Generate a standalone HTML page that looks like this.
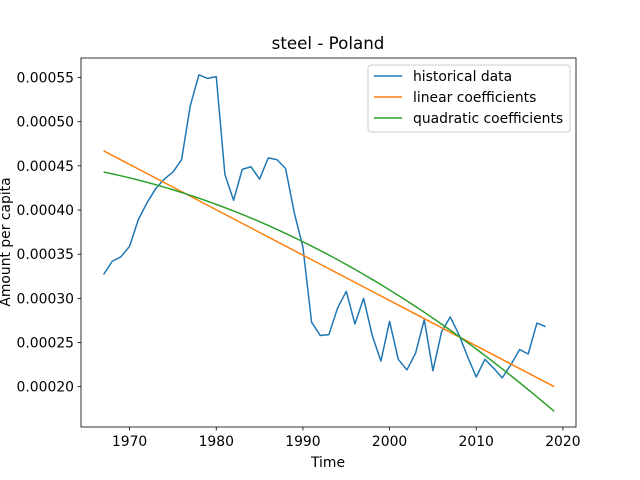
<!DOCTYPE html>
<html><head><meta charset="utf-8"><style>
body{margin:0;background:#fff;}
svg{display:block;font-family:"DejaVu Sans","Liberation Sans",sans-serif;}
</style></head><body>
<svg id="chart" width="640" height="480">
<rect width="640" height="480" fill="#fff"/>
<text x="328" y="49" font-size="16.7" text-anchor="middle">steel - Poland</text>
<g id="plot"></g>
<rect x="81" y="58" width="495" height="369" fill="none" stroke="#000" stroke-width="0.8"/>
<text x="328" y="467" font-size="13.9" text-anchor="middle">Time</text>
<text transform="translate(10,242) rotate(-90)" font-size="13.9" text-anchor="middle">Amount per capita</text>
<g>
<rect x="368" y="65" width="202" height="67" rx="3" fill="#fff" fill-opacity="0.8" stroke="#ccc"/>
<line x1="374" y1="76" x2="402" y2="76" stroke="#1f77b4" stroke-width="1.5"/>
<text x="413" y="81" font-size="13.9">historical data</text>
<line x1="374" y1="97" x2="402" y2="97" stroke="#ff7f0e" stroke-width="1.5"/>
<text x="413" y="102" font-size="13.9">linear coefficients</text>
<line x1="374" y1="118" x2="402" y2="118" stroke="#2ca02c" stroke-width="1.5"/>
<text x="413" y="123" font-size="13.9">quadratic coefficients</text>
</g>
</svg>
<script>
const years=[1967,1968,1969,1970,1971,1972,1973,1974,1975,1976,1977,1978,1979,1980,1981,1982,1983,1984,1985,1986,1987,1988,1989,1990,1991,1992,1993,1994,1995,1996,1997,1998,1999,2000,2001,2002,2003,2004,2005,2006,2007,2008,2009,2010,2011,2012,2013,2014,2015,2016,2017,2018];
const historical=[0.000327,0.000342,0.000347,0.000359,0.000389,0.000408,0.000424,0.000435,0.000443,0.000457,0.000518,0.000553,0.000549,0.000551,0.000440,0.000411,0.000446,0.000449,0.000435,0.000459,0.000457,0.000447,0.000397,0.000358,0.000273,0.000258,0.000259,0.000289,0.000308,0.000271,0.000300,0.000258,0.000229,0.000274,0.000231,0.000219,0.000238,0.000276,0.000218,0.000262,0.000279,0.000259,0.000234,0.000211,0.000231,0.000221,0.000210,0.000225,0.000242,0.000237,0.000272,0.000268];
const fitYears=[1967,1993,2019];
const linearFit=[0.000467,0.0003335,0.000200];
const quadFit=[0.000443,0.000349,0.000172];
const xTicks=[1970,1980,1990,2000,2010,2020];
const yTicks=[0.00020,0.00025,0.00030,0.00035,0.00040,0.00045,0.00050,0.00055];
const NS='http://www.w3.org/2000/svg';
const X=t=>129.6+(t-1970)*8.666;
const Y=v=>386.7-(v-0.0002)*883430;
const plot=document.getElementById('plot');
function mk(tag,attrs){const e=document.createElementNS(NS,tag);for(const k in attrs)e.setAttribute(k,attrs[k]);plot.appendChild(e);return e;}
function lag(t){const [a,b,c]=fitYears;const [fa,fb,fc]=quadFit;
return fa*(t-b)*(t-c)/((a-b)*(a-c))+fb*(t-a)*(t-c)/((b-a)*(b-c))+fc*(t-a)*(t-b)/((c-a)*(c-b));}
xTicks.forEach(t=>{const l=mk('line',{x1:X(t),x2:X(t),y1:427,y2:430.5,stroke:'#000','stroke-width':0.8});

const tx=mk('text',{x:X(t),y:446,'font-size':13.9,'text-anchor':'middle'});tx.textContent=t;
});
yTicks.forEach(v=>{const l=mk('line',{x1:77.5,x2:81,y1:Y(v),y2:Y(v),stroke:'#000','stroke-width':0.8});

const tx=mk('text',{x:74,y:Y(v)+5,'font-size':13.9,'text-anchor':'end'});tx.textContent=v.toFixed(5);
});
const h=mk('polyline',{points:years.map((t,i)=>X(t)+','+Y(historical[i])).join(' '),fill:'none',stroke:'#1f77b4','stroke-width':1.5,'stroke-linejoin':'round'});

const lin=mk('polyline',{points:fitYears.map((t,i)=>X(t)+','+Y(linearFit[i])).join(' '),fill:'none',stroke:'#ff7f0e','stroke-width':1.5});

const qp=[];for(let t=fitYears[0];t<=fitYears[2];t+=0.5)qp.push(X(t)+','+Y(lag(t)));
const q=mk('polyline',{points:qp.join(' '),fill:'none',stroke:'#2ca02c','stroke-width':1.5});

</script>
</body></html>
